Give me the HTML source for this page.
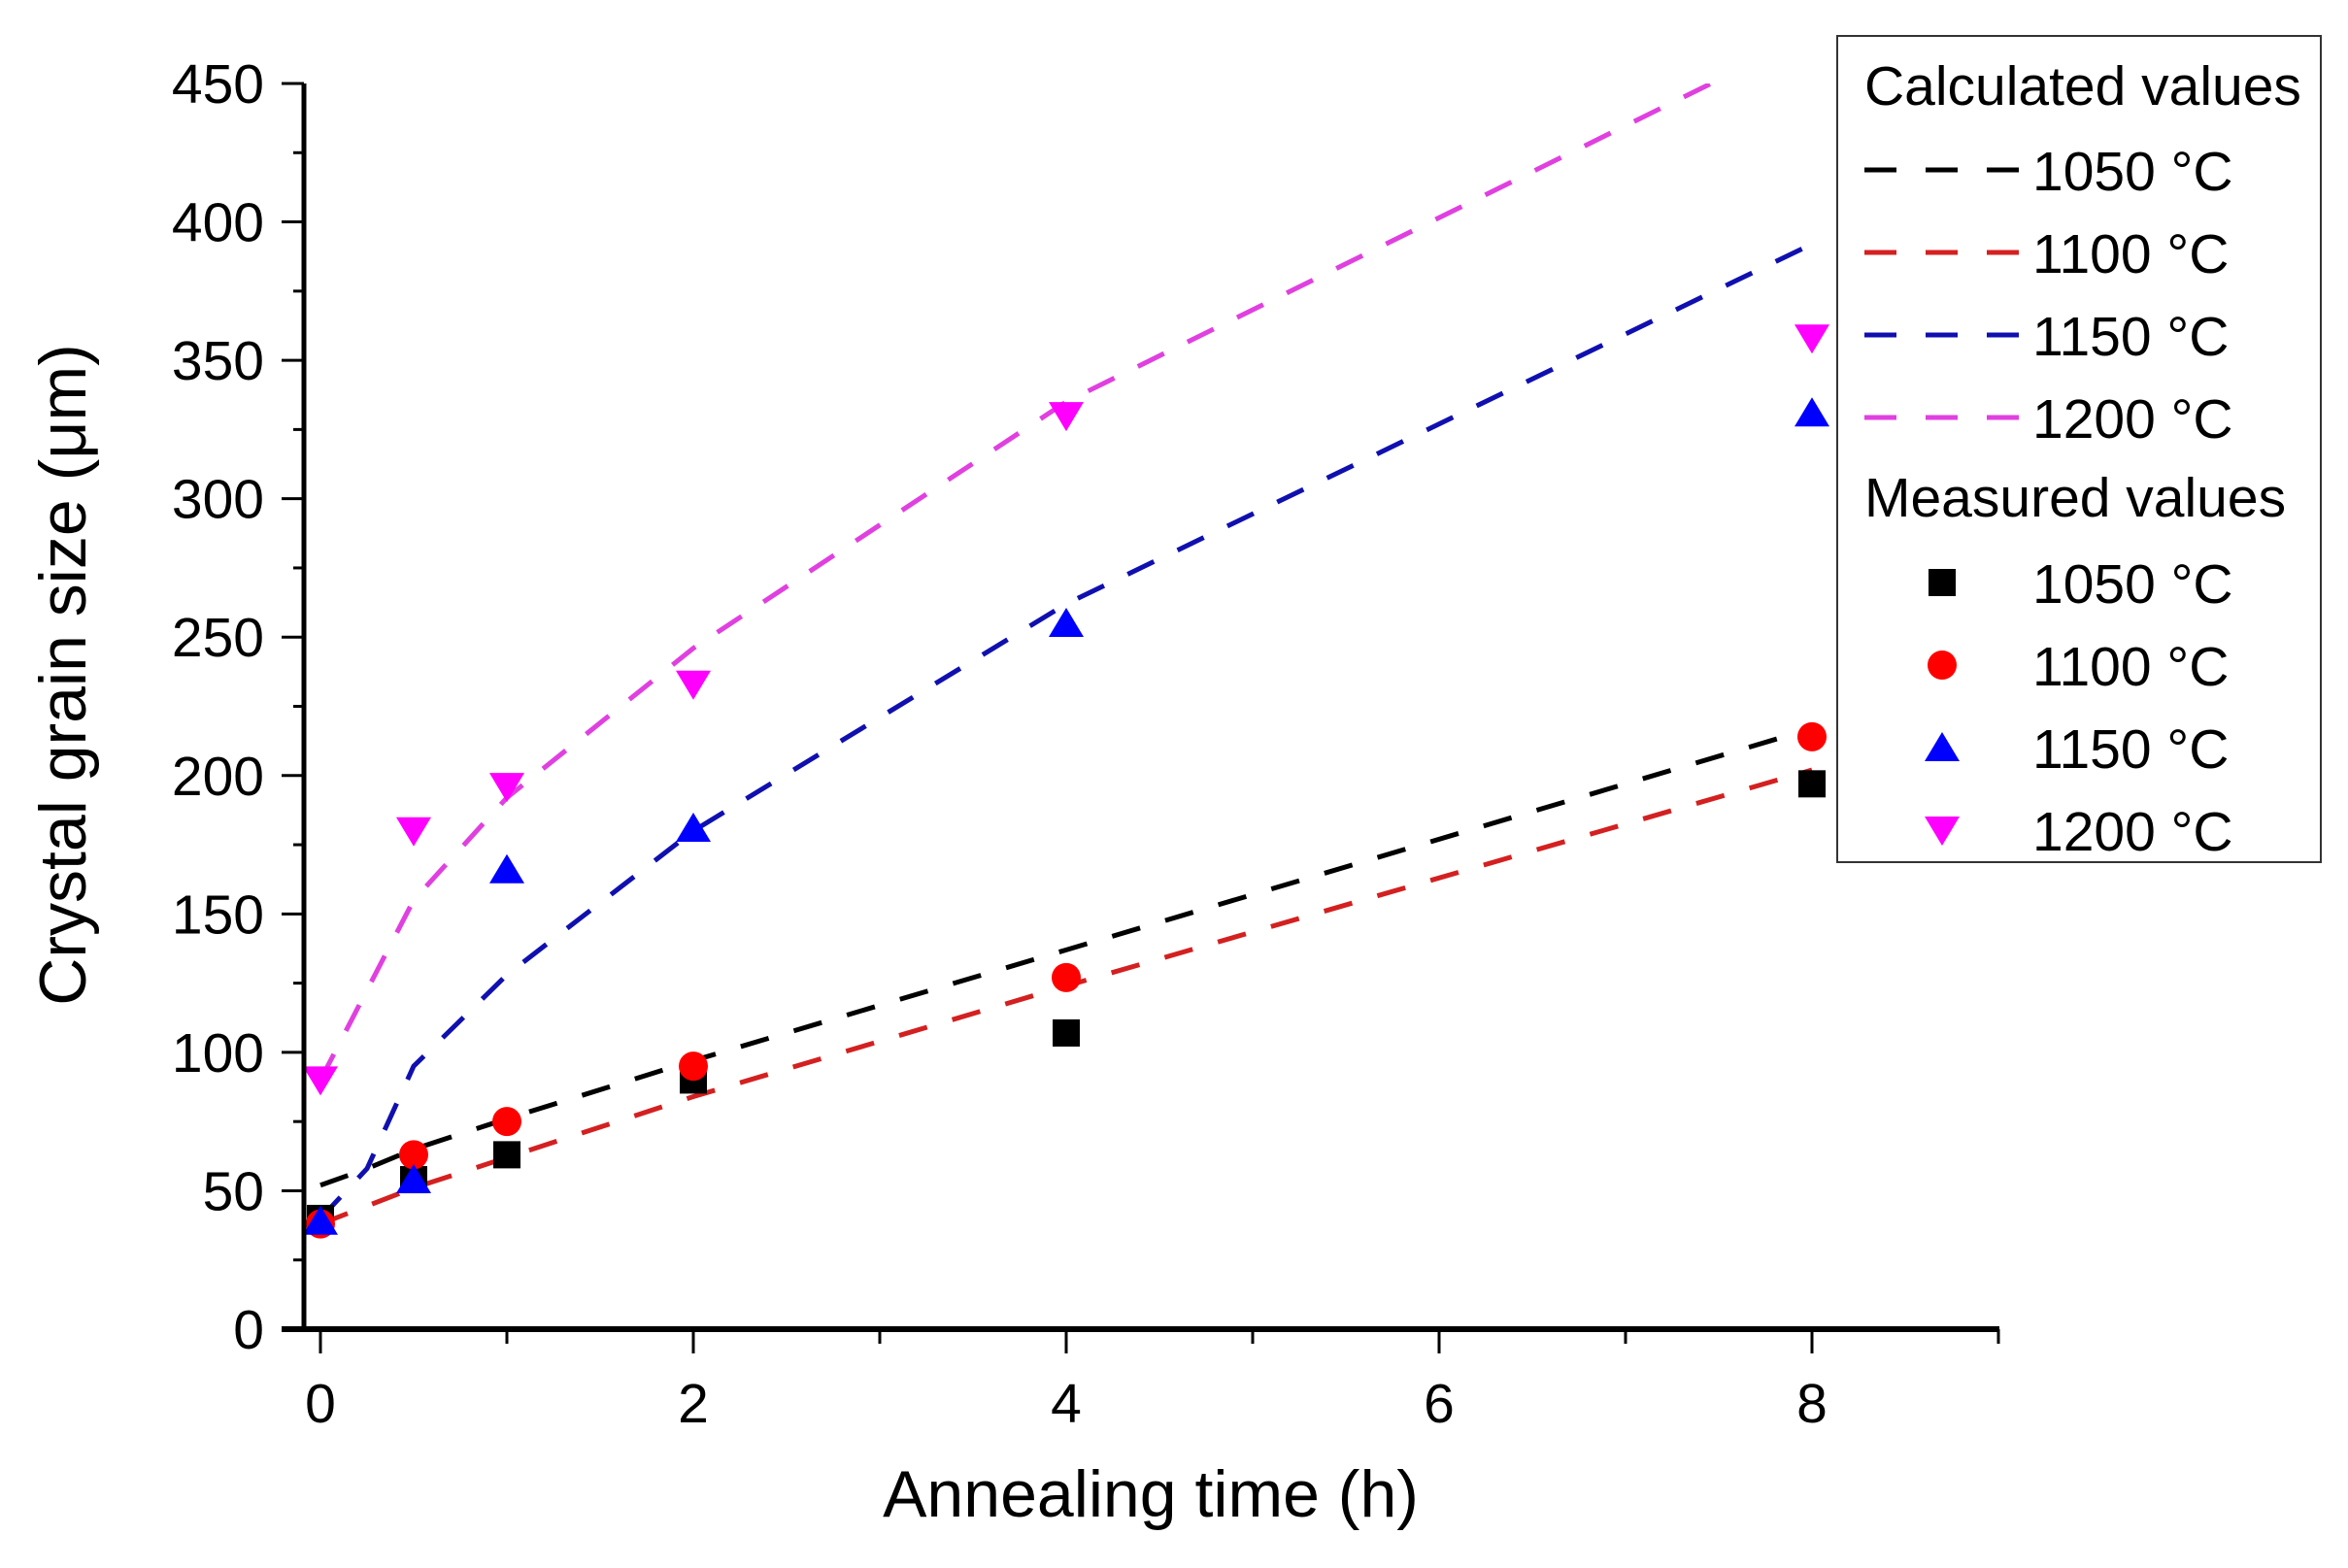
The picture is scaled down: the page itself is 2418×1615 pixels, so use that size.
<!DOCTYPE html>
<html><head><meta charset="utf-8"><style>
html,body{margin:0;padding:0;background:#fff;}
svg text{font-family:"Liberation Sans",Arial,sans-serif;}
</style></head><body>
<svg id="chart" width="2418" height="1610" viewBox="0 0 2418 1610" xmlns="http://www.w3.org/2000/svg">
<defs><clipPath id="plotclip"><rect x="313" y="86" width="1746" height="1283"/></clipPath></defs>
<g id="lines" clip-path="url(#plotclip)"></g>
<g id="markers"></g>
<g id="axes"></g>
<text x="88" y="695" font-size="68" text-anchor="middle" transform="rotate(-90 88 695)">Crystal grain size (μm)</text>
<text x="1185" y="1562" font-size="68" text-anchor="middle">Annealing time (h)</text>
<g>
<rect x="1892" y="37" width="498" height="851" fill="#fff" stroke="#333" stroke-width="2"/>
<text x="1920" y="108" font-size="57">Calculated values</text>
<text x="1920" y="532" font-size="57">Measured values</text>
<g id="legitems"></g>
</g>
</svg>
<script>
const xTicks=[0,2,4,6,8];
const yTicks=[0,50,100,150,200,250,300,350,400,450];
const seriesNames=["1050 °C","1100 °C","1150 °C","1200 °C"];
const colors=["#000000","#d42020","#1010b0","#e040e0"];
const markColors=["#000000","#ff0000","#0000ff","#ff00ff"];
const calcX=[[0,0.25,0.5,1,2,4,8],[0,0.5,1,2,4,8],[0,0.25,0.5,1,2,4,8],[0,0.5,1,2,4,8]];
const calc1050=[52,58,65,76,97,137,217];
const calc1100=[38,51,62,84,124,202];
const calc1150=[40,58,95,128,180,262,392];
const calc1200=[90,155,192,246,335,468];
const measX=[0,0.5,1,2,4,8];
const meas1050=[40,54,63,90,107,197];
const meas1100=[38,63,75,95,127,214];
const meas1150=[39,54,166,181,255,331];
const meas1200=[90,180,196,233,330,358];
const calcY=[calc1050,calc1100,calc1150,calc1200];
const measY=[meas1050,meas1100,meas1150,meas1200];
const NS="http://www.w3.org/2000/svg";
const sx=v=>330+v*(1866-330)/8;
const sy=v=>1369-v*(1369-86)/450;
function mk(tag,attrs,parent){const e=document.createElementNS(NS,tag);for(const k in attrs)e.setAttribute(k,attrs[k]);parent.appendChild(e);return e;}
const axes=document.getElementById('axes');
let a=mk('line',{x1:313,y1:86,x2:313,y2:1371,stroke:'#000','stroke-width':5},axes);


a=mk('line',{x1:290,y1:1369,x2:2059,y2:1369,stroke:'#000','stroke-width':6},axes);


for(let v=0;v<=450;v+=25){const y=sy(v);const major=v%50===0;mk('line',{x1:major?290:302,y1:y,x2:313,y2:y,stroke:'#000','stroke-width':3},axes);}
yTicks.forEach(v=>{const t=mk('text',{x:272,y:sy(v)+20,'font-size':57,'text-anchor':'end'},axes);t.textContent=v;

});
for(let v=0;v<=9;v++){const x=sx(v);mk('line',{x1:x,y1:1369,x2:x,y2:v%2===0?1394:1384,stroke:'#000','stroke-width':3},axes);}
xTicks.forEach(v=>{const t=mk('text',{x:sx(v),y:1465,'font-size':57,'text-anchor':'middle'},axes);t.textContent=v;

});
const lines=document.getElementById('lines');
calcY.forEach((ys,i)=>{const pts=ys.map((y,j)=>sx(calcX[i][j])+','+sy(y)).join(' ');
const p=mk('polyline',{points:pts,fill:'none',stroke:colors[i],'stroke-width':5,'stroke-dasharray':'30 27'},lines);

});
const markers=document.getElementById('markers');
function marker(i,x,y,parent){let e;const r=16;
if(i===0)e=mk('rect',{x:x-14,y:y-14,width:28,height:28,fill:markColors[0]},parent);
else if(i===1)e=mk('circle',{cx:x,cy:y,r:15,fill:markColors[1]},parent);
else if(i===2)e=mk('polygon',{points:`${x},${y-r} ${x-r-2},${y+r-2} ${x+r+2},${y+r-2}`,fill:markColors[2]},parent);
else e=mk('polygon',{points:`${x},${y+r} ${x-r-2},${y-r+2} ${x+r+2},${y-r+2}`,fill:markColors[3]},parent);
return e;}
measY.forEach((ys,i)=>{ys.forEach((y,j)=>{const m=marker(i,sx(measX[j]),sy(y),markers);

});});
const leg=document.getElementById('legitems');
seriesNames.forEach((n,i)=>{const y=175+i*85;
const l=mk('line',{x1:1920,y1:y,x2:2080,y2:y,stroke:colors[i],'stroke-width':5,'stroke-dasharray':'33 30'},leg);


const t=mk('text',{x:2093,y:y+21,'font-size':57},leg);t.textContent=n;


const y2=600+i*85;
const m=marker(i,2000,y2,leg);


const t2=mk('text',{x:2093,y:y2+21,'font-size':57},leg);t2.textContent=n;

});
</script>
</body></html>
